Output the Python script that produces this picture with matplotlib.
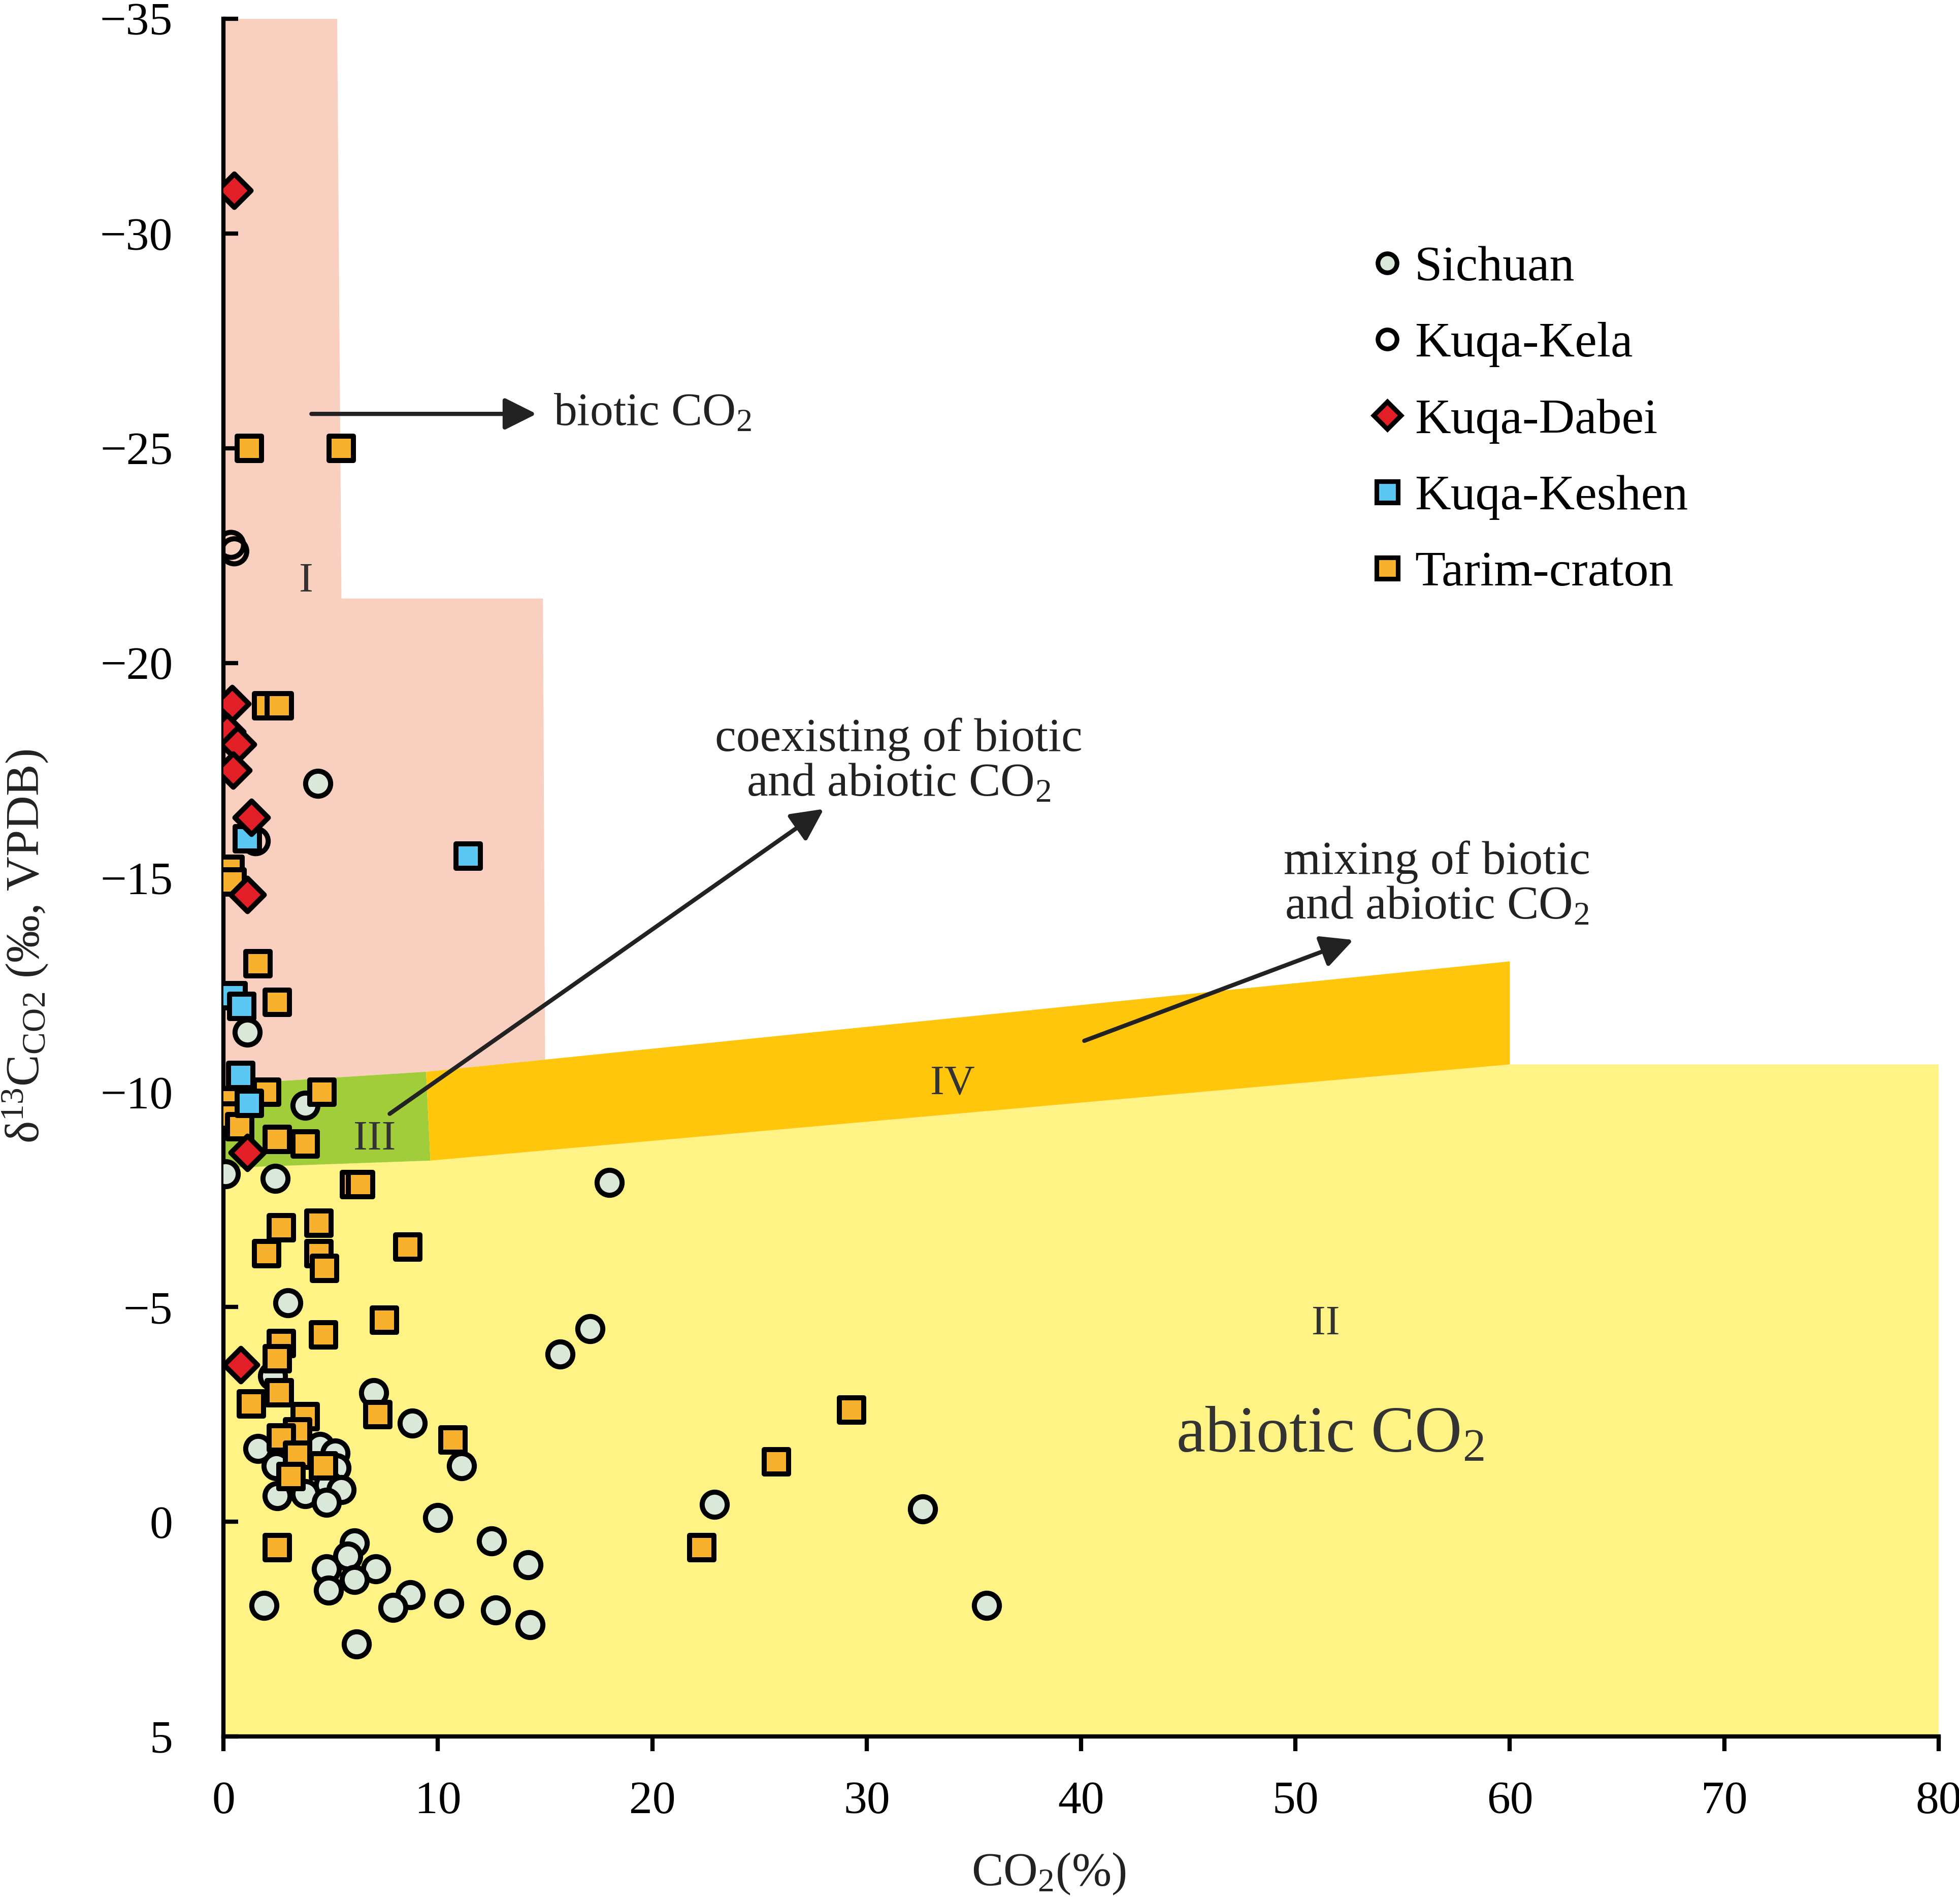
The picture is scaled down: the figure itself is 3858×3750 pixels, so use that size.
import numpy as np
import matplotlib
matplotlib.use("Agg")
import matplotlib.pyplot as plt
from matplotlib.lines import Line2D

plt.rcParams["font.family"] = ["Liberation Serif", "DejaVu Serif"]
plt.rcParams["mathtext.fontset"] = "custom"
plt.rcParams["mathtext.rm"] = "Liberation Serif"
plt.rcParams["mathtext.it"] = "Liberation Serif:italic"
plt.rcParams["axes.unicode_minus"] = True

# data (CO2 %, d13C permil)
sichuan_x = [4.4, 1.1, 3.8, 0.1, 2.4, 18.0, 3.0, 17.1, 15.7, 2.3, 7.0, 8.8, 11.1,
             1.6, 2.45, 4.5, 5.2, 5.25, 4.9, 5.5, 3.8, 2.5, 4.8, 10.0, 12.5, 22.9,
             32.6, 6.1, 5.8, 4.8, 7.1, 6.1, 4.9, 14.2, 8.7, 7.9, 10.5, 12.7, 14.3,
             1.9, 6.2, 35.6]
sichuan_y = [-17.2, -11.4, -9.7, -8.1, -8.0, -7.9, -5.1, -4.5, -3.9, -3.4, -3.0, -2.3, -1.3,
             -1.7, -1.3, -1.75, -1.6, -1.25, -0.85, -0.75, -0.65, -0.6, -0.45, -0.1, 0.45, -0.4,
             -0.3, 0.5, 0.8, 1.1, 1.1, 1.35, 1.6, 1.0, 1.7, 2.0, 1.9, 2.05, 2.4,
             1.95, 2.85, 1.95]

kela_x = [0.35, 0.5, 1.5]
kela_y = [-22.75, -22.6, -15.85]

dabei_x = [0.5, 0.4, 0.15, 0.65, 0.45, 1.3, 1.1, 1.1, 0.8]
dabei_y = [-31.0, -19.05, -18.4, -18.1, -17.5, -16.4, -14.6, -8.6, -3.65]

keshen_x = [1.1, 11.4, 0.45, 0.85, 0.8, 1.2]
keshen_y = [-15.9, -15.5, -12.25, -12.0, -10.4, -9.75]

tarim_x = [1.2, 5.5, 2.0, 2.6, 0.3, 0.4, 1.6, 2.5, 2.0, 4.6, 0.1, 0.3, 0.75, 2.5,
           3.8, 6.1, 6.4, 2.7, 4.45, 2.0, 4.45, 4.7, 8.6, 7.5, 4.65, 2.7, 2.5, 2.6,
           1.3, 3.8, 3.45, 2.7, 3.45, 4.65, 3.15, 7.2, 10.7, 2.5, 22.3, 25.8, 29.3]
tarim_y = [-25.0, -25.0, -19.0, -19.0, -15.2, -14.9, -13.0, -12.1, -10.0, -10.0, -9.8, -9.45, -9.2, -8.9,
           -8.8, -7.85, -7.85, -6.85, -6.95, -6.25, -6.25, -5.9, -6.4, -4.7, -4.35, -4.15, -3.8, -3.0,
           -2.75, -2.45, -2.1, -1.95, -1.55, -1.3, -1.05, -2.5, -1.9, 0.6, 0.6, -1.4, -2.6]

# genetic fields
field1_x = [0, 5.3, 5.5, 14.9, 15.0, 9.45, 0]
field1_y = [-35, -35, -21.5, -21.5, -10.76, -10.48, -10.18]
field3_x = [0, 9.45, 9.65, 0]
field3_y = [-10.18, -10.48, -8.41, -8.24]
field4_x = [9.45, 60, 60, 9.65]
field4_y = [-10.48, -13.05, -10.65, -8.41]
field2_x = [0, 9.65, 60, 80, 80, 0]
field2_y = [-8.24, -8.41, -10.65, -10.65, 5, 5]

fig = plt.figure(figsize=(12.86, 12.5), dpi=300)
ax = fig.add_axes([0.1141, 0.088, 0.8755, 0.9021])

ax.fill(field2_x, field2_y, color="#FFF385", lw=0, zorder=0)
ax.fill(field1_x, field1_y, color="#F9D0C0", lw=0, zorder=0)
ax.fill(field3_x, field3_y, color="#A2CD3A", lw=0, zorder=0)
ax.fill(field4_x, field4_y, color="#FFC60B", lw=0, zorder=0)

ax.scatter(kela_x, kela_y, s=140, marker="o", facecolor="none", edgecolor="black",
           linewidth=2.4, zorder=3)
ax.scatter(sichuan_x, sichuan_y, s=140, marker="o", facecolor="#D9E8D8", edgecolor="black",
           linewidth=2.4, zorder=3)
ax.scatter(tarim_x, tarim_y, s=130, marker="s", facecolor="#F8B12C", edgecolor="black",
           linewidth=2.4, zorder=4)
ax.scatter(keshen_x, keshen_y, s=130, marker="s", facecolor="#5AC8F3", edgecolor="black",
           linewidth=2.4, zorder=4)
ax.scatter(dabei_x, dabei_y, s=125, marker="D", facecolor="#E21F26", edgecolor="black",
           linewidth=2.4, zorder=5)

# field labels
ax.text(3.85, -21.9, "I", fontsize=20, color="#333333", ha="center", va="center")
ax.text(51.4, -4.6, "II", fontsize=20, color="#333333", ha="center", va="center")
ax.text(7.05, -8.9, "III", fontsize=20, color="#333333", ha="center", va="center", zorder=6)
ax.text(34.0, -10.2, "IV", fontsize=20, color="#333333", ha="center", va="center")
ax.text(51.6, -2.0, "abiotic CO$_2$", fontsize=31, color="#333333", ha="center", va="center")

arrow = dict(arrowstyle="-|>", color="#222222", lw=2.0, mutation_scale=32,
             shrinkA=0, shrinkB=0)
ax.annotate("", xy=(14.6, -25.8), xytext=(4.1, -25.8), arrowprops=arrow, zorder=6)
ax.text(15.4, -25.8, "biotic CO$_2$", fontsize=22, color="#222222", ha="left", va="center")

ax.annotate("", xy=(28.0, -16.6), xytext=(7.75, -9.5), arrowprops=arrow, zorder=6)
ax.text(31.5, -17.7, "coexisting of biotic\nand abiotic CO$_2$", fontsize=22.5,
        color="#222222", ha="center", va="center", linespacing=1.05)

ax.annotate("", xy=(52.7, -13.55), xytext=(40.15, -11.2), arrowprops=arrow, zorder=6)
ax.text(56.6, -14.84, "mixing of biotic\nand abiotic CO$_2$", fontsize=22.5,
        color="#222222", ha="center", va="center", linespacing=1.05)

ax.set_xlim(0, 80)
ax.set_ylim(5, -35)
ax.set_xticks(np.arange(0, 81, 10))
ax.set_yticks(np.arange(-35, 6, 5))
ax.spines["top"].set_visible(False)
ax.spines["right"].set_visible(False)
ax.spines["left"].set_linewidth(2.0)
ax.spines["bottom"].set_linewidth(2.0)
ax.tick_params(axis="y", direction="in", length=7, width=2.0, pad=24, labelsize=22)
ax.tick_params(axis="x", direction="out", length=7, width=2.0, pad=14, labelsize=22)

ax.set_xlabel("CO$_2$(%)", fontsize=22.5, color="#222222")
ax.xaxis.set_label_coords(0.481, -0.067)
ax.set_ylabel(r"δ$^{13}$C$_{\rm CO2}$ (‰, VPDB)", fontsize=22.5, color="#222222")
ax.yaxis.set_label_coords(-0.101, 0.46)

handles = [
    Line2D([], [], ls="none", marker="o", ms=9, mfc="#D9E8D8", mec="black", mew=2.2),
    Line2D([], [], ls="none", marker="o", ms=9, mfc="white", mec="black", mew=2.2),
    Line2D([], [], ls="none", marker="D", ms=9, mfc="#E21F26", mec="black", mew=2.2),
    Line2D([], [], ls="none", marker="s", ms=10, mfc="#5AC8F3", mec="black", mew=2.2),
    Line2D([], [], ls="none", marker="s", ms=10, mfc="#F8B12C", mec="black", mew=2.2),
]
labels = ["Sichuan", "Kuqa-Kela", "Kuqa-Dabei", "Kuqa-Keshen", "Tarim-craton"]
ax.legend(handles, labels, loc="upper left", bbox_to_anchor=(0.664, 0.868),
          frameon=False, fontsize=23.5, handletextpad=0.05, labelspacing=0.62,
          borderpad=0, handlelength=1.0, borderaxespad=0)

fig.savefig("out.png", dpi=300)
